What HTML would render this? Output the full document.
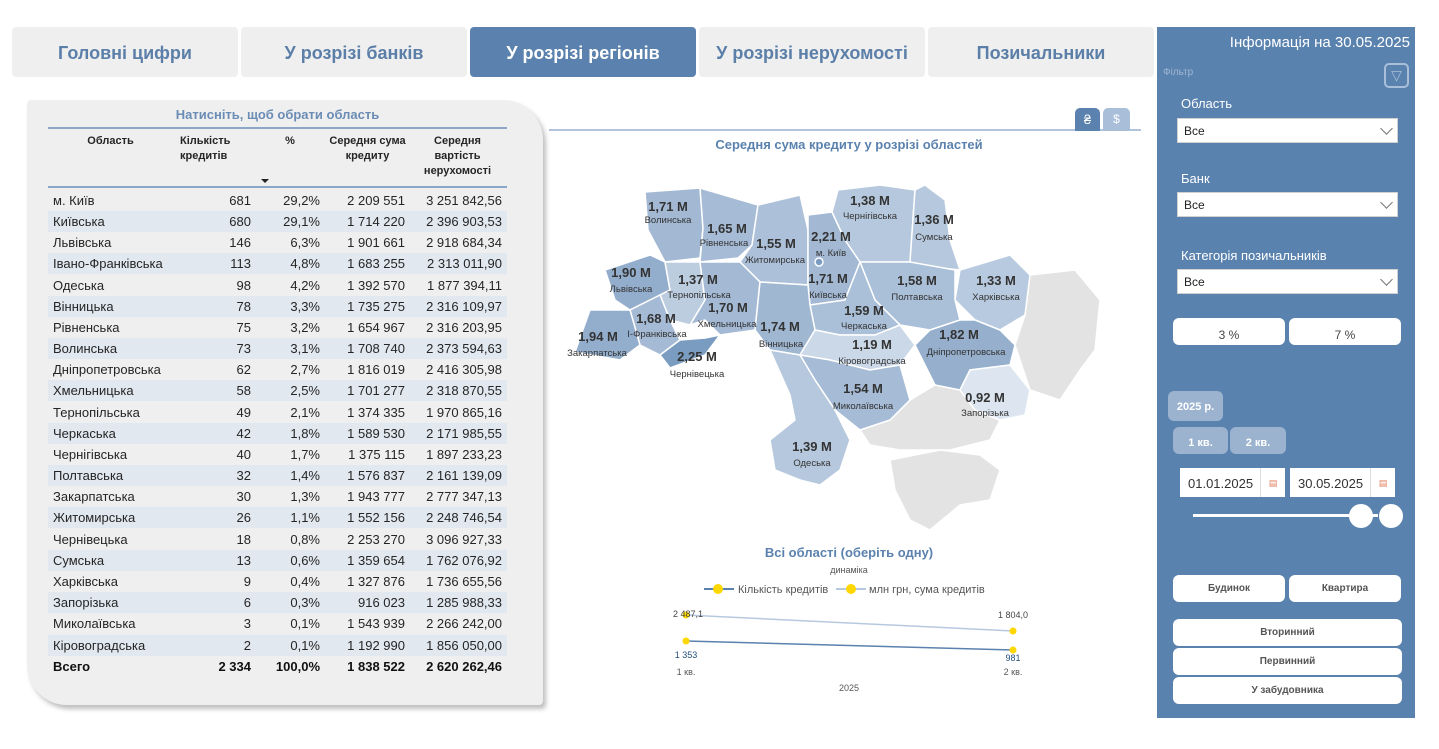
<!DOCTYPE html>
<html><head><meta charset="utf-8"><style>
*{margin:0;padding:0;box-sizing:border-box}
body{width:1439px;height:749px;background:#fff;font-family:"Liberation Sans","DejaVu Sans",sans-serif;position:relative;overflow:hidden;color:#252525}
.a{position:absolute}
.tab{position:absolute;top:27px;height:50px;width:226px;background:#efefef;border-radius:4px;color:#5b7fa8;font-weight:bold;font-size:18px;text-align:center;line-height:52px}
.tab.on{background:#5b82ae;color:#fff}
.card{left:27px;top:100px;width:516px;height:605px;background:#efefef;border-radius:4px 40px 4px 40px;box-shadow:3px 4px 5px rgba(0,0,0,.25)}
.r{position:absolute;left:48px;width:459px;height:21px;font-size:13px;line-height:21px}
.r span{position:absolute;top:0}
.r .n{left:5px}
.r .c{right:256px}.r .p{right:187px}.r .s{right:102px}.r .v{right:5px}
.st{background:#e1e8f0}
.hd{position:absolute;font-size:11px;font-weight:bold;text-align:center;line-height:15px;color:#252525}
.panel{left:1157px;top:27px;width:258px;height:691px;background:#5a82ae}
.lbl{position:absolute;color:#fff;font-size:13px}
.sel{position:absolute;left:1177px;width:221px;height:25px;background:#fff;border:1px solid #d0d0d0;font-size:12px;line-height:25px;padding-left:6px;color:#222}
.sel:after{content:"";position:absolute;right:6px;top:5px;width:8px;height:8px;border-right:1px solid #777;border-bottom:1px solid #777;transform:rotate(45deg)}
.btn{position:absolute;background:#fff;border-radius:6px;font-size:10px;font-weight:bold;color:#555;text-align:center}
.pb{position:absolute;background:#9bb3cf;border-radius:6px;color:#fff;font-size:11px;font-weight:bold;text-align:center}
.ml{font-size:13px;font-weight:bold;fill:#333;text-anchor:middle}
.mn{font-size:9.5px;fill:#333;text-anchor:middle}
</style></head><body>
<div class="tab" style="left:12px">Головні цифри</div>
<div class="tab" style="left:241px">У розрізі банків</div>
<div class="tab on" style="left:470px">У розрізі регіонів</div>
<div class="tab" style="left:699px">У розрізі нерухомості</div>
<div class="tab" style="left:928px">Позичальники</div>

<div class="a card"></div>
<div class="a" style="left:48px;top:107px;width:459px;text-align:center;color:#6a8cb5;font-weight:bold;font-size:13px">Натисніть, щоб обрати область</div>
<div class="a" style="left:48px;top:127px;width:459px;height:2px;background:#8aa7c9"></div>
<div class="a" style="left:48px;top:186px;width:459px;height:2px;background:#8aa7c9"></div>
<div class="hd" style="left:68px;top:134px;width:85px">Область</div>
<div class="hd" style="left:180px;top:134px;width:70px;text-align:left">Кількість<br>кредитів</div>
<div class="a" style="left:261px;top:179px;width:0;height:0;border-left:4px solid transparent;border-right:4px solid transparent;border-top:4px solid #222"></div>
<div class="hd" style="left:280px;top:134px;width:20px">%</div>
<div class="hd" style="left:325px;top:134px;width:85px">Середня сума<br>кредиту</div>
<div class="hd" style="left:415px;top:134px;width:85px">Середня<br>вартість<br>нерухомості</div>

<div class="r" style="top:190px"><span class="n">м. Київ</span><span class="c">681</span><span class="p">29,2%</span><span class="s">2 209 551</span><span class="v">3 251 842,56</span></div>
<div class="r st" style="top:211px"><span class="n">Київська</span><span class="c">680</span><span class="p">29,1%</span><span class="s">1 714 220</span><span class="v">2 396 903,53</span></div>
<div class="r" style="top:232px"><span class="n">Львівська</span><span class="c">146</span><span class="p">6,3%</span><span class="s">1 901 661</span><span class="v">2 918 684,34</span></div>
<div class="r st" style="top:253px"><span class="n">Івано-Франківська</span><span class="c">113</span><span class="p">4,8%</span><span class="s">1 683 255</span><span class="v">2 313 011,90</span></div>
<div class="r" style="top:275px"><span class="n">Одеська</span><span class="c">98</span><span class="p">4,2%</span><span class="s">1 392 570</span><span class="v">1 877 394,11</span></div>
<div class="r st" style="top:296px"><span class="n">Вінницька</span><span class="c">78</span><span class="p">3,3%</span><span class="s">1 735 275</span><span class="v">2 316 109,97</span></div>
<div class="r" style="top:317px"><span class="n">Рівненська</span><span class="c">75</span><span class="p">3,2%</span><span class="s">1 654 967</span><span class="v">2 316 203,95</span></div>
<div class="r st" style="top:338px"><span class="n">Волинська</span><span class="c">73</span><span class="p">3,1%</span><span class="s">1 708 740</span><span class="v">2 373 594,63</span></div>
<div class="r" style="top:359px"><span class="n">Дніпропетровська</span><span class="c">62</span><span class="p">2,7%</span><span class="s">1 816 019</span><span class="v">2 416 305,98</span></div>
<div class="r st" style="top:380px"><span class="n">Хмельницька</span><span class="c">58</span><span class="p">2,5%</span><span class="s">1 701 277</span><span class="v">2 318 870,55</span></div>
<div class="r" style="top:402px"><span class="n">Тернопільська</span><span class="c">49</span><span class="p">2,1%</span><span class="s">1 374 335</span><span class="v">1 970 865,16</span></div>
<div class="r st" style="top:423px"><span class="n">Черкаська</span><span class="c">42</span><span class="p">1,8%</span><span class="s">1 589 530</span><span class="v">2 171 985,55</span></div>
<div class="r" style="top:444px"><span class="n">Чернігівська</span><span class="c">40</span><span class="p">1,7%</span><span class="s">1 375 115</span><span class="v">1 897 233,23</span></div>
<div class="r st" style="top:465px"><span class="n">Полтавська</span><span class="c">32</span><span class="p">1,4%</span><span class="s">1 576 837</span><span class="v">2 161 139,09</span></div>
<div class="r" style="top:486px"><span class="n">Закарпатська</span><span class="c">30</span><span class="p">1,3%</span><span class="s">1 943 777</span><span class="v">2 777 347,13</span></div>
<div class="r st" style="top:507px"><span class="n">Житомирська</span><span class="c">26</span><span class="p">1,1%</span><span class="s">1 552 156</span><span class="v">2 248 746,54</span></div>
<div class="r" style="top:529px"><span class="n">Чернівецька</span><span class="c">18</span><span class="p">0,8%</span><span class="s">2 253 270</span><span class="v">3 096 927,33</span></div>
<div class="r st" style="top:550px"><span class="n">Сумська</span><span class="c">13</span><span class="p">0,6%</span><span class="s">1 359 654</span><span class="v">1 762 076,92</span></div>
<div class="r" style="top:571px"><span class="n">Харківська</span><span class="c">9</span><span class="p">0,4%</span><span class="s">1 327 876</span><span class="v">1 736 655,56</span></div>
<div class="r st" style="top:592px"><span class="n">Запорізька</span><span class="c">6</span><span class="p">0,3%</span><span class="s">916 023</span><span class="v">1 285 988,33</span></div>
<div class="r" style="top:613px"><span class="n">Миколаївська</span><span class="c">3</span><span class="p">0,1%</span><span class="s">1 543 939</span><span class="v">2 266 242,00</span></div>
<div class="r st" style="top:635px"><span class="n">Кіровоградська</span><span class="c">2</span><span class="p">0,1%</span><span class="s">1 192 990</span><span class="v">1 856 050,00</span></div>
<div class="r" style="top:656px;font-weight:bold;color:#111"><span class="n">Всего</span><span class="c">2 334</span><span class="p">100,0%</span><span class="s">1 838 522</span><span class="v">2 620 262,46</span></div>

<!-- map area -->
<div class="a" style="left:549px;top:129px;width:592px;height:2px;background:#b0c4de"></div>
<div class="a" style="left:1075px;top:108px;width:25px;height:23px;background:#5b82ae;border-radius:5px 5px 0 0;color:#fff;font-size:13px;text-align:center;line-height:23px">₴</div>
<div class="a" style="left:1103px;top:108px;width:27px;height:23px;background:#a9bfd9;border-radius:5px 5px 0 0;color:#fff;font-size:12px;text-align:center;line-height:23px">$</div>
<div class="a" style="left:549px;top:137px;width:600px;text-align:center;color:#5b82ae;font-weight:bold;font-size:13px">Середня сума кредиту у розрізі областей</div>

<svg class="a" style="left:0;top:0" width="1439" height="749">
<g stroke="#fff" stroke-width="1.5" stroke-linejoin="round">
<polygon fill="#e3e3e3" points="1030,275 1075,270 1100,300 1095,350 1080,370 1060,400 1030,390 1015,345 1025,315"/>
<polygon fill="#e3e3e3" points="860,430 890,420 910,400 935,385 960,390 975,410 1000,420 990,440 950,450 900,450 870,445"/>
<polygon fill="#e3e3e3" points="890,460 940,450 980,455 1000,470 990,500 960,505 930,530 910,520 895,490"/>
<polygon fill="#a2b8d3" points="645,192 700,188 703,228 700,258 665,262 648,230"/>
<polygon fill="#a6bbd5" points="700,188 758,205 752,245 738,258 700,262 703,228"/>
<polygon fill="#acc0d9" points="758,205 800,195 808,230 808,285 760,282 740,262 752,245"/>
<polygon fill="#a2b8d3" points="808,215 832,212 845,240 860,262 845,300 810,305 808,285 808,230"/>
<polygon fill="#b6c8dd" points="832,212 838,190 880,185 915,190 910,262 860,262 845,240"/>
<polygon fill="#b6c8dd" points="915,190 925,185 945,200 950,240 960,270 910,265 910,262"/>
<polygon fill="#b8cadf" points="960,270 1010,255 1030,275 1025,315 1000,330 975,320 955,300"/>
<polygon fill="#aabfd8" points="860,262 910,262 955,270 955,300 960,320 930,330 900,325 875,300"/>
<polygon fill="#aabfd8" points="845,300 860,262 875,300 900,325 875,335 840,335 815,330 810,305"/>
<polygon fill="#93adcc" points="605,270 650,255 665,262 670,290 650,300 630,310 615,300"/>
<polygon fill="#bccde0" points="665,262 700,262 705,300 690,325 670,320 660,295 670,290"/>
<polygon fill="#a3b9d4" points="700,262 740,262 760,282 755,330 720,335 705,320 690,325 705,300"/>
<polygon fill="#a0b7d2" points="760,282 808,285 810,305 815,330 800,355 770,350 755,330"/>
<polygon fill="#a5bad4" points="630,310 650,300 660,295 670,320 680,340 660,355 640,345"/>
<polygon fill="#93adcc" points="590,310 630,310 640,345 620,360 575,352"/>
<polygon fill="#7b9cc1" points="660,355 680,340 705,338 720,335 705,355 670,368"/>
<polygon fill="#cbd8e7" points="815,330 840,335 875,335 900,325 915,345 900,365 870,370 830,360 800,355"/>
<polygon fill="#95afcd" points="930,330 960,320 975,320 1000,330 1015,345 1010,365 970,370 960,390 935,385 915,345"/>
<polygon fill="#dde6f0" points="960,390 970,370 1010,365 1030,390 1025,415 1000,420 975,410"/>
<polygon fill="#a6bbd5" points="800,355 830,360 870,370 900,365 910,400 890,420 860,430 835,410 815,380"/>
<polygon fill="#b6c8dd" points="770,350 800,355 815,380 835,410 850,440 840,470 820,485 800,480 775,470 770,440 795,420 790,395"/>
<circle cx="819" cy="262" r="4" fill="#7b9cc1"/>
</g>
<g>
<text class="ml" x="668" y="211">1,71 М</text><text class="mn" x="668" y="223">Волинська</text>
<text class="ml" x="727" y="233">1,65 М</text><text class="mn" x="724" y="246">Рівненська</text>
<text class="ml" x="776" y="248">1,55 М</text><text class="mn" x="775" y="263">Житомирська</text>
<text class="ml" x="831" y="241">2,21 М</text><text class="mn" x="831" y="256">м. Київ</text>
<text class="ml" x="870" y="205">1,38 М</text><text class="mn" x="870" y="219">Чернігівська</text>
<text class="ml" x="934" y="224">1,36 М</text><text class="mn" x="934" y="240">Сумська</text>
<text class="ml" x="631" y="277">1,90 М</text><text class="mn" x="631" y="292">Львівська</text>
<text class="ml" x="698" y="284">1,37 М</text><text class="mn" x="699" y="298">Тернопільська</text>
<text class="ml" x="828" y="283">1,71 М</text><text class="mn" x="828" y="298">Київська</text>
<text class="ml" x="917" y="285">1,58 М</text><text class="mn" x="917" y="300">Полтавська</text>
<text class="ml" x="996" y="285">1,33 М</text><text class="mn" x="996" y="300">Харківська</text>
<text class="ml" x="728" y="312">1,70 М</text><text class="mn" x="727" y="327">Хмельницька</text>
<text class="ml" x="864" y="315">1,59 М</text><text class="mn" x="864" y="329">Черкаська</text>
<text class="ml" x="656" y="323">1,68 М</text><text class="mn" x="657" y="337">І-Франківська</text>
<text class="ml" x="780" y="331">1,74 М</text><text class="mn" x="781" y="347">Вінницька</text>
<text class="ml" x="598" y="341">1,94 М</text><text class="mn" x="597" y="356">Закарпатська</text>
<text class="ml" x="959" y="339">1,82 М</text><text class="mn" x="966" y="355">Дніпропетровська</text>
<text class="ml" x="872" y="349">1,19 М</text><text class="mn" x="872" y="364">Кіровоградська</text>
<text class="ml" x="697" y="361">2,25 М</text><text class="mn" x="697" y="377">Чернівецька</text>
<text class="ml" x="863" y="393">1,54 М</text><text class="mn" x="863" y="409">Миколаївська</text>
<text class="ml" x="985" y="402">0,92 М</text><text class="mn" x="985" y="416">Запорізька</text>
<text class="ml" x="812" y="451">1,39 М</text><text class="mn" x="812" y="466">Одеська</text>
</g>
<!-- line chart -->
<text x="849" y="557" text-anchor="middle" font-size="13" font-weight="bold" fill="#5b82ae">Всі області (оберіть одну)</text>
<text x="849" y="573" text-anchor="middle" font-size="9" fill="#555">динаміка</text>
<line x1="704" y1="589" x2="734" y2="589" stroke="#5b82ae" stroke-width="2"/><circle cx="718" cy="589" r="5" fill="#ffd700"/>
<text x="738" y="593" font-size="11" fill="#555">Кількість кредитів</text>
<line x1="836" y1="589" x2="866" y2="589" stroke="#b7c9df" stroke-width="2"/><circle cx="851" cy="589" r="5" fill="#ffd700"/>
<text x="869" y="593" font-size="11" fill="#555">млн грн, сума кредитів</text>
<line x1="686" y1="615" x2="1013" y2="631" stroke="#b7c9df" stroke-width="1.5"/>
<line x1="686" y1="641" x2="1013" y2="650" stroke="#5b82ae" stroke-width="1.5"/>
<circle cx="686" cy="615" r="3.5" fill="#ffd700"/><circle cx="1013" cy="631" r="3.5" fill="#ffd700"/>
<circle cx="686" cy="641" r="3.5" fill="#ffd700"/><circle cx="1013" cy="650" r="3.5" fill="#ffd700"/>
<text x="688" y="617" text-anchor="middle" font-size="9" fill="#444">2 487,1</text>
<text x="1013" y="618" text-anchor="middle" font-size="9" fill="#444">1 804,0</text>
<text x="686" y="658" text-anchor="middle" font-size="9" fill="#1f4e79">1 353</text>
<text x="1013" y="661" text-anchor="middle" font-size="9" fill="#1f4e79">981</text>
<text x="686" y="675" text-anchor="middle" font-size="9" fill="#555">1 кв.</text>
<text x="1013" y="675" text-anchor="middle" font-size="9" fill="#555">2 кв.</text>
<text x="849" y="691" text-anchor="middle" font-size="9" fill="#555">2025</text>
</svg>

<!-- right panel -->
<div class="a panel"></div>
<div class="lbl" style="left:1160px;top:34px;width:250px;text-align:right;font-size:15px">Інформація на 30.05.2025</div>
<div class="lbl" style="left:1163px;top:67px;font-size:10px;color:#9fb6d2">Фільтр</div>
<div class="a" style="left:1384px;top:63px;width:25px;height:25px;border:2px solid #a9bfd9;border-radius:5px;color:#a9bfd9;font-size:14px;text-align:center;line-height:20px">▽</div>
<div class="lbl" style="left:1181px;top:96px">Область</div>
<div class="sel" style="top:118px">Все</div>
<div class="lbl" style="left:1181px;top:171px">Банк</div>
<div class="sel" style="top:192px">Все</div>
<div class="lbl" style="left:1181px;top:248px">Категорія позичальників</div>
<div class="sel" style="top:269px">Все</div>
<div class="btn" style="left:1173px;top:318px;width:112px;height:27px;font-size:12px;font-weight:normal;line-height:35px;color:#444">3 %</div>
<div class="btn" style="left:1289px;top:318px;width:112px;height:27px;font-size:12px;font-weight:normal;line-height:35px;color:#444">7 %</div>
<div class="pb" style="left:1168px;top:391px;width:55px;height:30px;line-height:33px">2025 р.</div>
<div class="pb" style="left:1173px;top:427px;width:55px;height:27px;line-height:32px">1 кв.</div>
<div class="pb" style="left:1230px;top:427px;width:56px;height:27px;line-height:32px">2 кв.</div>
<div class="a" style="left:1180px;top:468px;width:105px;height:29px;background:#fff;font-size:13px;line-height:31px;padding-left:8px;color:#333">01.01.2025<span style="position:absolute;right:0;top:0;width:25px;height:29px;border-left:1px solid #ddd;color:#e08060;font-size:9px;text-align:center">▤</span></div>
<div class="a" style="left:1290px;top:468px;width:105px;height:29px;background:#fff;font-size:13px;line-height:31px;padding-left:8px;color:#333">30.05.2025<span style="position:absolute;right:0;top:0;width:25px;height:29px;border-left:1px solid #ddd;color:#e08060;font-size:9px;text-align:center">▤</span></div>
<div class="a" style="left:1193px;top:514px;width:185px;height:3px;background:#fff"></div>
<div class="a" style="left:1349px;top:504px;width:24px;height:24px;border-radius:50%;background:#fff"></div>
<div class="a" style="left:1379px;top:504px;width:24px;height:24px;border-radius:50%;background:#fff"></div>
<div class="btn" style="left:1173px;top:575px;width:112px;height:27px;line-height:28px">Будинок</div>
<div class="btn" style="left:1289px;top:575px;width:112px;height:27px;line-height:28px">Квартира</div>
<div class="btn" style="left:1173px;top:619px;width:229px;height:27px;line-height:28px">Вторинний</div>
<div class="btn" style="left:1173px;top:648px;width:229px;height:27px;line-height:28px">Первинний</div>
<div class="btn" style="left:1173px;top:677px;width:229px;height:27px;line-height:28px">У забудовника</div>
</body></html>
